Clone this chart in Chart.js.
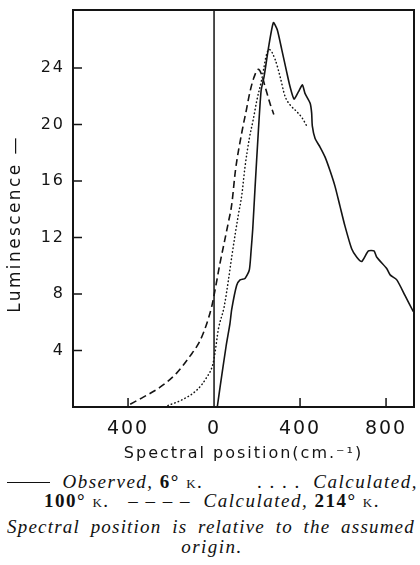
<!DOCTYPE html>
<html>
<head>
<meta charset="utf-8">
<script src="https://cdn.jsdelivr.net/npm/chart.js@4.4.1/dist/chart.umd.min.js"></script>
<style>
  body { margin: 0; background: #fff; }
  #wrap { position: relative; width: 420px; height: 565px; overflow: hidden; }
  #chart { position: absolute; left: 0; top: 0; }
  .cap { position: absolute; font-family: "Liberation Serif", "DejaVu Serif", serif; font-size: 19px;
         line-height: 22px; color: #111; white-space: pre; letter-spacing: 1.5px; }
  .sc { font-variant: small-caps; }
  .rule { display: inline-block; width: 43px; height: 1.3px; background: #111; vertical-align: 5px; }
</style>
</head>
<body>
<div id="wrap">
  <canvas id="chart" width="420" height="470"></canvas>
  <div class="cap" style="left:7px; top:471px; width:411px; display:flex; justify-content:space-between;">
    <span><span class="rule"></span>  <i>Observed,</i> <b>6°</b> <span class="sc">k.</span></span><span>. . . .  <i>Calculated,</i></span>
  </div>
  <div class="cap" style="left:0; top:490px; width:424px; text-align:center;"><b>100°</b> <span class="sc">k.</span>   – – – –  <i>Calculated,</i> <b>214°</b> <span class="sc">k.</span></div>
  <div class="cap" style="left:7px; top:516px; width:408px; display:flex; justify-content:space-between; font-style:italic; letter-spacing:1.2px;">
    <span>Spectral</span><span>position</span><span>is</span><span>relative</span><span>to</span><span>the</span><span>assumed</span>
  </div>
  <div class="cap" style="left:0; top:536px; width:424px; text-align:center; font-style:italic;">origin.</div>
</div>
<script>
// Observed, 6° K (solid)
const obsX = [15, 28, 56, 74, 82, 105, 121, 144, 164, 172, 180, 191, 206, 219, 233, 253, 276, 294, 315, 338, 353, 372,
  392, 411, 423, 447, 454, 457, 470, 493, 516, 540, 563, 586, 609, 640, 664, 687, 718, 744, 757, 803, 819, 850, 888, 927];
const obsY = [0, 1.4, 4.3, 5.9, 6.9, 8.6, 9.0, 9.1, 9.7, 11.0, 12.6, 15.6, 19.5, 22.4, 23.4, 25.4, 27.2, 26.7, 25.3, 23.7, 22.7, 21.8,
  22.3, 22.8, 22.2, 21.5, 20.8, 19.9, 19.0, 18.4, 17.7, 16.7, 15.6, 14.2, 12.8, 11.2, 10.6, 10.3, 11.05, 11.05, 10.6, 9.8, 9.35, 9.0, 7.9, 6.75];

// Calculated, 100° K (dotted)
const calc100X = [-215, -150, -80, -34, -6, 5, 20, 47, 67, 82, 98, 113, 129, 144, 164, 183, 199, 222, 245, 257, 284, 307, 330, 353, 385, 408, 431];
const calc100Y = [0.1, 0.5, 1.2, 2.1, 3.0, 3.9, 5.5, 7.1, 9.0, 10.6, 12.2, 13.6, 15.0, 17.0, 19.0, 20.4, 21.7, 23.2, 25.0, 25.3, 24.6, 23.4, 22.0, 21.4, 20.9, 20.5, 19.9];

// Calculated, 214° K (dashed)
const calc214X = [-390, -329, -251, -174, -112, -65, -34, -11, 0, 28, 51, 67, 82, 100, 130, 150, 167, 185, 206, 222, 237, 260, 278];
const calc214Y = [0.2, 0.7, 1.4, 2.4, 3.6, 4.7, 5.9, 7.1, 7.9, 10.2, 11.9, 13.1, 14.3, 16.8, 19.5, 21.0, 22.3, 23.3, 23.9, 23.5, 22.7, 21.5, 20.7];

const xTicks = [-400, 0, 400, 800];
const yTicks = [4, 8, 12, 16, 20, 24];
const yTitle = 'Luminescence —';
const xTitle = 'Spectral position(cm.\u207B\u00B9)';

const ink = '#141414';
const pts = (xs, ys) => xs.map((x, i) => ({ x, y: ys[i] }));

// frame, origin line, inward ticks and the y title
const framePlugin = {
    id: 'frame',
    beforeDraw(chart) {
        chart.ctx.letterSpacing = '2px';
    },
    afterDraw(chart) {
        const { ctx, chartArea: a, scales: { x, y } } = chart;
        ctx.save();
        ctx.strokeStyle = ink;
        ctx.lineWidth = 2;
        ctx.beginPath();
        ctx.moveTo(a.left, a.top);
        ctx.lineTo(a.right, a.top);
        ctx.lineTo(a.right, a.bottom);
        ctx.lineTo(a.left, a.bottom);
        ctx.closePath();
        ctx.stroke();

        const x0 = x.getPixelForValue(0);
        ctx.lineWidth = 1.5;
        ctx.beginPath();
        ctx.moveTo(x0, a.top);
        ctx.lineTo(x0, a.bottom);
        x.ticks.forEach(t => {
            const p = x.getPixelForValue(t.value);
            ctx.moveTo(p, a.bottom);
            ctx.lineTo(p, a.bottom - 9);
        });
        y.ticks.forEach(t => {
            const p = y.getPixelForValue(t.value);
            ctx.moveTo(a.left, p);
            ctx.lineTo(a.left + 9, p);
        });
        ctx.stroke();

        ctx.fillStyle = ink;
        ctx.font = '17px "DejaVu Sans"';
        ctx.letterSpacing = '2.4px';
        ctx.textAlign = 'center';
        ctx.textBaseline = 'middle';
        ctx.translate(16, 224);
        ctx.rotate(-Math.PI / 2);
        ctx.fillText(yTitle, 0, 0);
        ctx.restore();
    }
};

new Chart(document.getElementById('chart'), {
    type: 'line',
    data: {
        datasets: [
            {
                label: 'Observed, 6° K',
                data: pts(obsX, obsY),
                borderColor: ink,
                borderWidth: 1.6,
                tension: 0.2
            },
            {
                label: 'Calculated, 100° K',
                data: pts(calc100X, calc100Y),
                borderColor: ink,
                borderWidth: 1.5,
                borderDash: [0.5, 3.2],
                borderCapStyle: 'round',
                cubicInterpolationMode: 'monotone'
            },
            {
                label: 'Calculated, 214° K',
                data: pts(calc214X, calc214Y),
                borderColor: ink,
                borderWidth: 1.6,
                borderDash: [7, 4],
                cubicInterpolationMode: 'monotone'
            }
        ]
    },
    options: {
        responsive: false,
        animation: false,
        devicePixelRatio: 1,
        layout: { padding: { top: 10, right: 6, left: 0, bottom: 0 } },
        elements: { point: { radius: 0 } },
        plugins: { legend: { display: false }, tooltip: { enabled: false } },
        scales: {
            x: {
                type: 'linear',
                min: -656,
                max: 930,
                grid: { display: false, drawTicks: false },
                border: { display: false },
                afterBuildTicks: s => { s.ticks = xTicks.map(v => ({ value: v })); },
                afterFit: s => { s.height = 63; s.paddingLeft = 0; s.paddingRight = 0; },
                ticks: {
                    color: ink,
                    padding: 11,
                    maxRotation: 0,
                    font: { family: 'DejaVu Sans', size: 19 },
                    callback: v => String(Math.abs(v))
                },
                title: {
                    display: true,
                    text: xTitle,
                    color: ink,
                    font: { family: 'DejaVu Sans', size: 16 },
                    padding: { top: 0, bottom: 7 }
                }
            },
            y: {
                min: 0,
                max: 28.1,
                grid: { display: false, drawTicks: false },
                border: { display: false },
                afterBuildTicks: s => { s.ticks = yTicks.map(v => ({ value: v })); },
                afterFit: s => { s.width = 73; s.paddingTop = 0; s.paddingBottom = 0; },
                ticks: {
                    color: ink,
                    padding: 8,
                    font: { family: 'DejaVu Sans', size: 16 }
                }
            }
        }
    },
    plugins: [framePlugin]
});
</script>
</body>
</html>
